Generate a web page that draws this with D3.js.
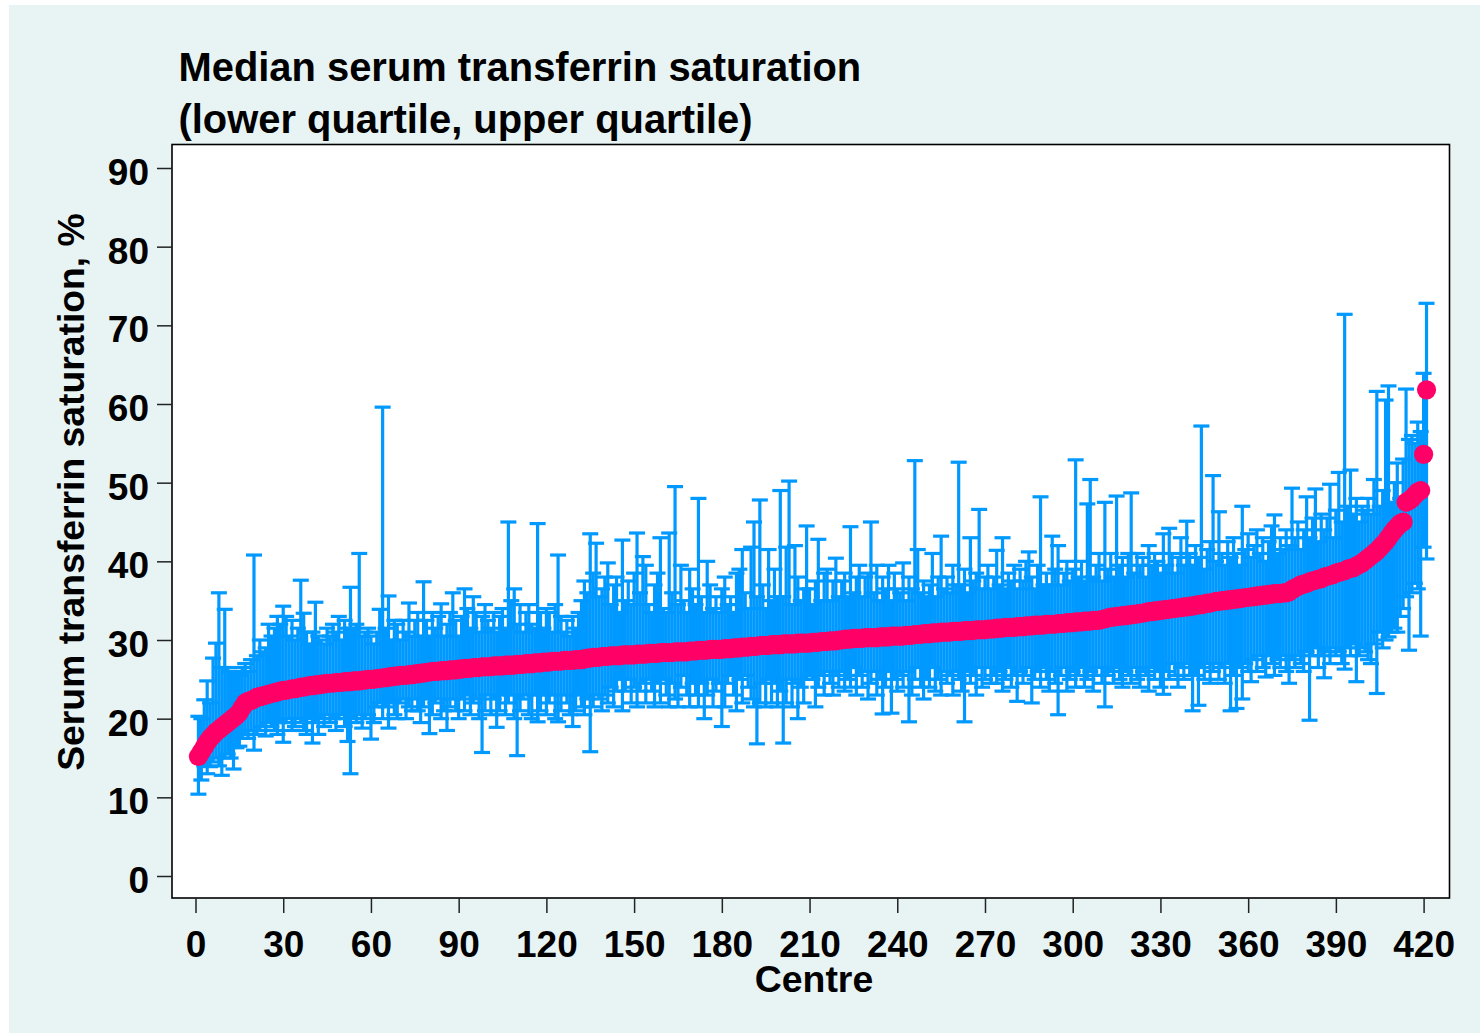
<!DOCTYPE html>
<html>
<head>
<meta charset="utf-8">
<script src="https://cdn.jsdelivr.net/npm/d3@7"></script>
<style>
html, body { margin: 0; padding: 0; background: #fff; }
svg { display: block; }
text { font-family: "Liberation Sans", Arial, sans-serif; font-weight: bold; fill: #000; }
</style>
</head>
<body>
<svg id="chart" width="1480" height="1033"></svg>
<script>
var titleLines = ["Median serum transferrin saturation", "(lower quartile, upper quartile)"]
var yLabel = "Serum transferrin saturation, %"
var xLabel = "Centre"
var xTicks = [0,30,60,90,120,150,180,210,240,270,300,330,360,390,420]
var yTicks = [0,10,20,30,40,50,60,70,80,90]

// one row = 10 centres, centre number is index + 1
var medians = [
15.2,15.8,16.4,17.0,17.5,17.9,18.3,18.6,18.9,19.2,
19.5,19.8,20.1,20.4,20.8,21.4,22.0,22.2,22.3,22.5,
22.7,22.8,22.9,23.0,23.1,23.2,23.3,23.4,23.5,23.6,
23.6,23.7,23.8,23.8,23.9,24.0,24.0,24.1,24.2,24.2,
24.3,24.3,24.4,24.4,24.5,24.5,24.5,24.6,24.6,24.6,
24.7,24.7,24.7,24.8,24.8,24.8,24.9,24.9,25.0,25.0,
25.0,25.1,25.1,25.2,25.2,25.3,25.3,25.4,25.4,25.5,
25.5,25.5,25.6,25.6,25.7,25.7,25.8,25.8,25.9,25.9,
26.0,26.0,26.0,26.1,26.1,26.1,26.2,26.2,26.2,26.3,
26.3,26.4,26.4,26.4,26.5,26.5,26.5,26.6,26.6,26.6,
26.6,26.7,26.7,26.7,26.7,26.8,26.8,26.8,26.8,26.9,
26.9,26.9,27.0,27.0,27.0,27.1,27.1,27.1,27.2,27.2,
27.2,27.3,27.3,27.3,27.3,27.4,27.4,27.4,27.4,27.5,
27.5,27.5,27.6,27.7,27.7,27.8,27.8,27.8,27.9,27.9,
27.9,28.0,28.0,28.0,28.0,28.1,28.1,28.1,28.1,28.1,
28.2,28.2,28.2,28.2,28.3,28.3,28.3,28.3,28.4,28.4,
28.4,28.4,28.4,28.5,28.5,28.5,28.5,28.5,28.6,28.6,
28.6,28.7,28.7,28.7,28.7,28.8,28.8,28.8,28.8,28.8,
28.9,28.9,28.9,29.0,29.0,29.0,29.1,29.1,29.1,29.2,
29.2,29.2,29.3,29.3,29.3,29.3,29.4,29.4,29.4,29.4,
29.5,29.5,29.5,29.5,29.5,29.6,29.6,29.6,29.6,29.6,
29.7,29.7,29.7,29.8,29.8,29.8,29.9,29.9,29.9,30.0,
30.0,30.1,30.1,30.1,30.2,30.2,30.2,30.2,30.3,30.3,
30.3,30.3,30.3,30.4,30.4,30.4,30.4,30.5,30.5,30.5,
30.5,30.5,30.6,30.6,30.6,30.7,30.7,30.7,30.8,30.8,
30.8,30.9,30.9,30.9,31.0,31.0,31.0,31.0,31.1,31.1,
31.1,31.1,31.2,31.2,31.2,31.2,31.3,31.3,31.3,31.3,
31.4,31.4,31.4,31.5,31.5,31.5,31.6,31.6,31.6,31.6,
31.7,31.7,31.7,31.8,31.8,31.8,31.9,31.9,31.9,31.9,
32.0,32.0,32.0,32.0,32.1,32.1,32.1,32.2,32.2,32.2,
32.3,32.3,32.3,32.4,32.4,32.4,32.5,32.5,32.5,32.6,
32.7,32.8,32.9,32.9,33.0,33.0,33.1,33.1,33.2,33.2,
33.3,33.3,33.4,33.4,33.5,33.6,33.6,33.7,33.7,33.8,
33.8,33.9,33.9,34.0,34.0,34.1,34.1,34.2,34.2,34.3,
34.3,34.4,34.5,34.5,34.6,34.7,34.7,34.8,34.9,34.9,
35.0,35.0,35.1,35.1,35.2,35.2,35.3,35.3,35.4,35.4,
35.5,35.5,35.6,35.6,35.7,35.7,35.8,35.8,35.9,35.9,
35.9,36.0,36.0,36.1,36.4,36.6,36.8,37.0,37.1,37.2,
37.4,37.5,37.6,37.7,37.8,38.0,38.1,38.2,38.3,38.5,
38.6,38.7,38.8,39.0,39.1,39.2,39.4,39.6,39.8,40.1,
40.4,40.7,41.0,41.3,41.7,42.1,42.5,43.0,43.5,44.0,
44.4,44.8,45.0,47.5,47.7,48.0,48.4,48.8,49.0,53.6,
61.8
]

var uppers = [
20.3,20.0,22.4,24.8,22.0,27.7,29.6,36.0,26.5,33.9,
26.5,26.0,26.0,25.8,25.5,26.5,27.0,26.0,27.5,40.8,
28.0,30.0,28.5,29.0,32.0,30.5,31.5,33.0,32.0,34.3,
33.0,30.5,32.5,30.0,31.5,37.6,33.4,31.0,29.5,31.0,
34.8,30.5,30.0,29.5,31.5,30.5,32.0,31.0,33.0,30.0,
32.5,31.5,36.7,31.5,32.0,41.0,30.5,31.0,31.5,30.5,
29.5,31.0,33.9,59.6,31.5,35.6,30.0,32.5,32.0,30.0,
32.5,31.0,34.7,30.5,32.5,33.5,30.5,37.4,32.5,30.5,
33.5,31.5,33.0,34.6,30.5,32.0,33.5,36.0,32.5,30.5,
33.0,36.5,34.0,31.5,35.5,33.5,31.0,33.0,34.5,32.5,
31.5,33.5,31.0,33.0,34.0,31.5,45.0,35.0,36.5,32.0,
34.5,31.0,33.5,34.5,32.0,31.5,44.8,33.5,31.5,34.0,
33.5,31.0,34.5,40.8,33.0,31.0,32.5,30.5,33.0,31.5,
33.5,35.0,37.5,36.0,43.5,38.5,42.3,35.5,36.5,38.0,
39.8,34.5,37.0,38.0,33.5,42.7,35.0,37.5,34.5,38.5,
43.6,36.0,40.6,39.5,34.5,33.5,37.0,38.5,43.0,34.0,
33.5,43.6,36.0,49.5,34.5,39.5,35.0,33.5,39.0,36.5,
34.5,48.0,35.5,33.5,40.0,37.0,34.0,35.5,33.5,36.5,
38.0,34.5,35.5,33.5,38.5,39.0,41.5,36.0,34.0,41.8,
45.0,35.5,47.8,37.0,34.0,41.5,35.0,39.0,35.5,49.0,
35.5,41.8,50.2,34.5,42.0,38.0,35.0,36.5,44.5,36.5,
34.5,37.5,42.8,35.0,38.5,39.0,35.0,37.5,40.4,35.5,
37.5,38.5,35.5,44.4,36.0,38.0,39.5,35.5,38.0,38.5,
45.0,36.0,39.5,35.0,38.0,36.5,39.5,35.0,38.5,36.5,
36.0,39.8,35.0,38.0,36.5,52.8,41.5,36.0,37.5,35.5,
37.0,41.0,35.5,38.0,43.2,36.5,38.0,36.0,39.5,37.0,
52.6,37.0,39.0,36.0,43.0,37.5,38.5,46.6,36.5,38.0,
39.5,36.5,38.0,41.4,37.0,43.0,36.5,38.5,37.5,39.5,
36.5,39.0,37.5,40.0,41.2,38.0,36.5,39.5,48.2,37.0,
38.5,37.0,43.2,39.0,42.0,37.0,38.5,40.0,37.5,39.0,
52.9,38.0,40.0,37.5,47.3,50.4,38.0,39.5,41.0,37.5,
47.5,39.0,41.0,38.0,48.3,39.5,40.5,38.0,41.0,48.7,
38.5,41.0,39.5,40.5,38.0,42.0,39.5,41.0,40.0,38.5,
43.5,39.5,44.2,41.0,38.5,40.5,43.0,39.5,45.1,41.0,
39.5,42.0,40.5,57.2,39.0,41.5,42.5,50.9,40.0,46.3,
41.0,39.5,42.5,40.5,43.0,41.0,39.5,47.0,41.5,43.5,
40.5,42.0,44.0,41.0,43.0,40.0,42.5,44.5,45.9,41.0,
43.0,41.5,44.0,42.0,49.3,43.0,45.0,41.5,44.0,48.2,
43.0,45.5,49.2,42.5,46.0,44.0,45.5,49.8,43.0,46.5,
51.3,45.0,71.4,47.0,51.6,46.0,48.0,45.0,47.0,46.5,
48.0,46.0,50.4,61.6,47.0,49.0,60.5,62.3,47.5,50.0,
52.5,48.0,53.0,61.9,55.5,56.0,55.0,57.7,56.5,63.9,
72.8
]

var lowers = [
10.4,12.2,14.0,13.0,13.9,14.5,15.0,14.0,12.8,15.0,
15.5,15.0,13.6,16.3,16.5,17.5,18.0,17.5,18.5,16.0,
18.0,18.5,19.0,17.8,19.5,19.0,18.5,18.0,19.5,17.0,
19.5,20.0,18.5,19.0,20.0,19.5,18.5,18.0,20.0,16.9,
19.5,18.0,20.0,19.0,20.5,19.5,20.0,18.5,20.0,20.5,
19.0,17.1,13.0,20.0,19.5,20.5,18.8,20.0,20.5,17.4,
19.5,21.5,22.0,20.0,21.5,18.8,22.0,20.5,20.0,22.0,
22.5,20.0,21.5,21.0,22.5,21.0,19.5,21.5,22.5,18.1,
20.5,22.0,22.5,20.0,21.0,18.5,21.5,22.5,21.0,20.0,
22.5,21.0,23.0,20.5,22.0,22.5,20.0,15.7,21.0,23.0,
20.5,22.5,18.9,21.0,23.0,20.5,22.0,23.0,20.0,15.3,
21.0,22.5,23.0,20.5,20.0,23.0,19.6,21.0,23.0,20.5,
22.0,23.0,20.0,19.6,21.0,23.0,22.0,20.5,19.0,21.0,
23.0,21.5,20.5,22.5,15.8,21.5,23.0,22.5,21.0,23.0,
22.0,24.0,21.5,23.5,25.0,21.0,23.5,25.0,22.0,24.0,
21.5,23.5,24.5,22.0,25.0,23.5,21.5,24.5,22.0,25.0,
23.0,21.5,24.5,22.5,21.5,24.0,25.5,23.0,21.5,24.5,
23.0,21.5,24.5,20.0,23.0,25.0,21.5,23.5,24.5,19.0,
21.5,24.5,25.5,23.0,21.0,25.0,22.0,25.5,24.0,22.5,
21.5,16.8,22.0,24.5,21.5,25.0,22.0,24.5,21.5,23.5,
16.9,22.0,25.0,21.5,24.5,20.0,24.0,22.0,25.0,25.5,
25.0,21.5,24.0,25.5,23.0,26.0,24.5,23.0,25.5,24.0,
26.0,23.5,25.0,24.0,26.5,23.0,25.5,24.0,26.0,22.5,
24.5,26.0,23.0,25.0,20.6,24.0,26.0,20.7,25.0,23.5,
25.5,24.0,26.0,19.6,23.0,25.0,26.5,24.0,22.5,25.0,
24.0,26.5,23.5,25.0,23.0,26.0,24.5,25.5,23.0,26.0,
25.0,23.5,19.6,26.0,24.5,25.5,23.0,26.5,24.0,25.0,
26.5,24.5,25.5,24.5,26.0,23.5,25.0,26.5,24.0,25.5,
22.2,26.0,24.5,25.5,26.5,22.0,25.0,26.0,24.0,26.5,
25.0,23.5,26.0,24.5,20.5,25.5,26.5,23.5,25.0,26.0,
24.0,25.5,26.5,24.0,25.0,26.0,23.5,25.5,26.5,24.5,
21.5,25.5,26.0,24.5,26.5,25.0,24.0,26.0,25.5,24.5,
26.5,25.0,24.0,26.0,25.5,23.5,26.5,25.0,26.0,24.0,
23.1,26.0,25.0,27.0,25.5,24.0,26.5,25.0,27.0,25.5,
21.0,25.5,21.7,26.5,25.0,27.0,24.5,26.0,27.0,25.0,
26.5,24.5,27.0,21.0,25.5,21.3,26.5,22.5,27.0,26.0,
24.7,27.5,26.0,28.0,26.5,25.3,28.0,27.0,25.5,27.5,
26.5,28.0,26.0,24.5,27.5,26.5,28.0,27.0,26.0,28.5,
19.8,28.0,29.0,26.5,28.0,25.2,28.5,27.0,29.0,28.0,
28.5,27.0,26.3,29.0,28.0,29.5,24.7,28.0,29.0,28.5,
27.5,27.0,29.5,23.2,31.0,29.0,30.0,30.4,31.0,31.5,
31.0,33.0,34.0,35.5,28.7,36.0,37.2,36.5,30.5,41.8,
40.3
]

var svg = d3.select("#chart")
var plot = {left: 172, right: 1449.5, top: 144.5, bottom: 898}

var x = d3.scaleLinear().domain([0, 420]).range([195.5, 1423.6])
var y = d3.scaleLinear().domain([0, 90]).range([876, 168])

svg.append("rect").attr("x", 9).attr("y", 5).attr("width", 1471).attr("height", 1028).attr("fill", "#e8f4f4")
svg.append("rect")
	.attr("x", plot.left).attr("y", plot.top)
	.attr("width", plot.right - plot.left).attr("height", plot.bottom - plot.top)
	.attr("fill", "#fff")

var centres = d3.range(medians.length).map(function(i){
	return {centre: i + 1, median: medians[i], lower: lowers[i], upper: uppers[i]}
})

var CAP = 8
var BLUE = "#0099ff"
var bars = svg.append("g").attr("stroke", BLUE).attr("stroke-width", 3.2).attr("fill", "none")
bars.selectAll("line.stem").data(centres).enter().append("line")
	.attr("class", "stem")
	.attr("x1", function(d){ return x(d.centre) })
	.attr("x2", function(d){ return x(d.centre) })
	.attr("y1", function(d){ return y(d.lower) })
	.attr("y2", function(d){ return y(d.upper) })
bars.selectAll("line.top").data(centres).enter().append("line")
	.attr("class", "top")
	.attr("x1", function(d){ return x(d.centre) - CAP })
	.attr("x2", function(d){ return x(d.centre) + CAP })
	.attr("y1", function(d){ return y(d.upper) })
	.attr("y2", function(d){ return y(d.upper) })
bars.selectAll("line.bottom").data(centres).enter().append("line")
	.attr("class", "bottom")
	.attr("x1", function(d){ return x(d.centre) - CAP })
	.attr("x2", function(d){ return x(d.centre) + CAP })
	.attr("y1", function(d){ return y(d.lower) })
	.attr("y2", function(d){ return y(d.lower) })

svg.append("g").selectAll("circle").data(centres).enter().append("circle")
	.attr("cx", function(d){ return x(d.centre) })
	.attr("cy", function(d){ return y(d.median) })
	.attr("r", 9.6)
	.attr("fill", "#ff0066")

// frame goes over the marks
svg.append("rect")
	.attr("x", plot.left).attr("y", plot.top)
	.attr("width", plot.right - plot.left).attr("height", plot.bottom - plot.top)
	.attr("fill", "none").attr("stroke", "#000").attr("stroke-width", 1.6)

var xAxis = svg.append("g")
	.attr("transform", "translate(0," + plot.bottom + ")")
	.call(d3.axisBottom(x).tickValues(xTicks).tickSize(15).tickPadding(18).tickFormat(d3.format("d")))
var yAxis = svg.append("g")
	.attr("transform", "translate(" + plot.left + ",0)")
	.call(d3.axisLeft(y).tickValues(yTicks).tickSize(15).tickPadding(8).tickFormat(d3.format("d")))
xAxis.select(".domain").remove()
yAxis.select(".domain").remove()
svg.selectAll(".tick line").attr("stroke", "#222").attr("stroke-width", 1.5)
svg.selectAll(".tick text").style("font-size", "37px").style("font-family", "'Liberation Sans', Arial, sans-serif").style("font-weight", "bold").attr("fill", "#000")
yAxis.selectAll(".tick text").attr("dy", "0.45em")

svg.selectAll("text.title").data(titleLines).enter().append("text")
	.attr("class", "title")
	.attr("x", 178.5)
	.attr("y", function(d, i){ return 81 + i * 52 })
	.style("font-size", "39.9px")
	.text(function(d){ return d })

svg.append("text")
	.attr("x", 814).attr("y", 992)
	.attr("text-anchor", "middle")
	.style("font-size", "37.4px")
	.text(xLabel)

svg.append("text")
	.attr("transform", "translate(84,492) rotate(-90)")
	.attr("text-anchor", "middle")
	.style("font-size", "37.3px")
	.text(yLabel)
</script>
</body>
</html>
